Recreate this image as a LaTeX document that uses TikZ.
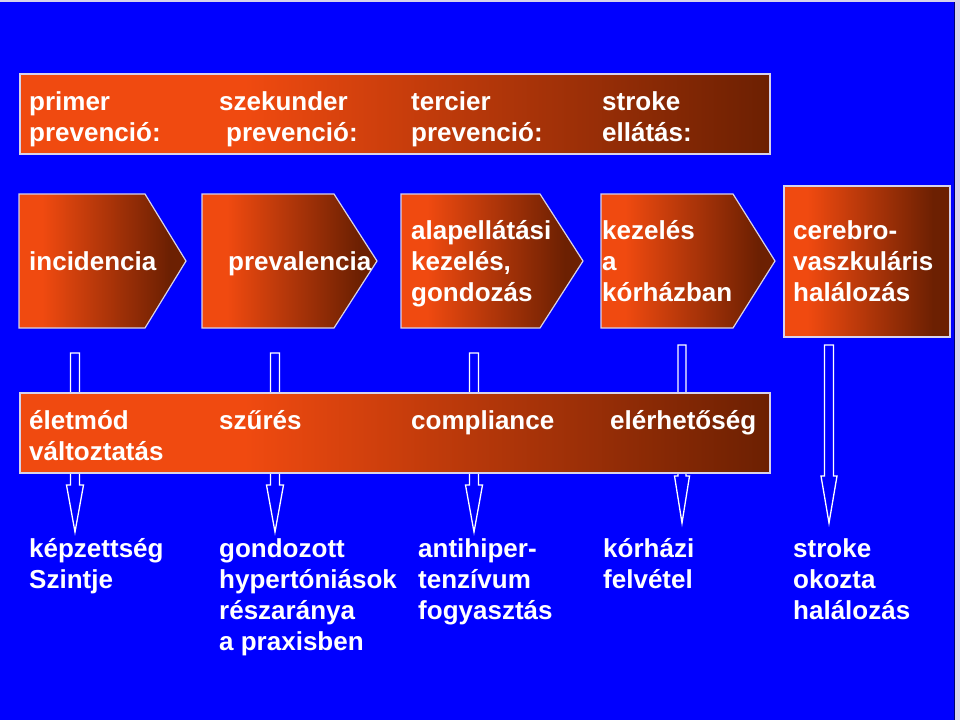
\documentclass[tikz,border=0pt]{standalone}
\usepackage{fontspec}
\setmainfont{Liberation Sans}
\definecolor{bgblue}{RGB}{0,0,255}
\definecolor{orng}{RGB}{240,74,16}
\definecolor{dbrn}{RGB}{108,32,2}
\definecolor{edge}{RGB}{215,210,235}
\definecolor{rimnavy}{RGB}{0,0,110}
\pgfdeclarehorizontalshading{barshade}{100bp}{color(0bp)=(orng); color(25bp)=(orng); color(40bp)=(orng); color(75bp)=(dbrn); color(100bp)=(dbrn)}
\pgfdeclarehorizontalshading{pentshade}{100bp}{color(0bp)=(orng); color(25bp)=(orng); color(32bp)=(orng); color(70bp)=(dbrn); color(100bp)=(dbrn)}
\begin{document}
\begin{tikzpicture}[x=1pt,y=-1pt,
  lbl/.style={font=\bfseries\fontsize{26}{31}\selectfont, text=white, anchor=base west, align=left, inner sep=0pt},
  band/.style={shading=barshade, draw=edge, line width=1.5pt},
  pent/.style={shading=pentshade, draw=edge, line width=1.2pt},
  hollow/.style={fill=bgblue, draw=white, line width=1.3pt, line join=miter}]
\useasboundingbox (0,0) rectangle (960,720);
\fill[edge] (0,0) rectangle (960,720);
\fill[bgblue] (0,2) rectangle (955,720);
\draw[rimnavy, line width=1pt] (954.5,2) -- (954.5,720);

% hollow block arrows (drawn first, bars lie over them)
\foreach \c/\hw/\hh/\tp/\hs/\tip in {75/4.5/8.5/353/485/532, 275/4.5/8.5/353/485/532, 474/4.5/8.5/353/485/532, 682/4/7.5/345/476/523, 829/4.5/8/345/476/523}
  \draw[hollow] (\c-\hw,\tp) -- (\c+\hw,\tp) -- (\c+\hw,\hs) -- (\c+\hh,\hs) -- (\c,\tip) -- (\c-\hh,\hs) -- (\c-\hw,\hs) -- cycle;

% top bar (node base = baseline of last line)
\path[band] (20,74) rectangle (770,154);
\node[lbl] (p1) at (29,141) {primer\\prevenció:};
\node[lbl] (p2) at (219,141) {szekunder\\\kern7pt prevenció:};
\node[lbl] (p3) at (411,141) {tercier\\prevenció:};
\node[lbl] (p4) at (602,141) {stroke\\ellátás:};

% process chevrons
\path[pent] (19,194) -- (145,194) -- (186,261) -- (145,328) -- (19,328) -- cycle;
\path[pent] (202,194) -- (334,194) -- (377,261) -- (334,328) -- (202,328) -- cycle;
\path[pent] (401,194) -- (540,194) -- (583,261) -- (540,328) -- (401,328) -- cycle;
\path[pent] (601,194) -- (733,194) -- (775,261) -- (733,328) -- (601,328) -- cycle;
\path[pent] (784,186) rectangle (950,337);
\node[lbl] (c1) at (29,270) {incidencia};
\node[lbl] (c2) at (228,270) {prevalencia};
\node[lbl] (c3) at (411,301) {alapellátási\\kezelés,\\gondozás};
\node[lbl] (c4) at (602,301) {kezelés\\a\\kórházban};
\node[lbl] (c5) at (793,301) {cerebro-\\vaszkuláris\\halálozás};

% middle bar
\path[band] (20,393) rectangle (770,473);
\node[lbl] (m1) at (29,460) {életmód\\változtatás};
\node[lbl] (m2) at (219,429) {szűrés};
\node[lbl] (m3) at (411,429) {compliance};
\node[lbl] (m4) at (610,429) {elérhetőség};

% bottom indicators
\node[lbl] (b1) at (29,588) {képzettség\\Szintje};
\node[lbl] (b2) at (219,650) {gondozott\\hypertóniások\\részaránya\\a praxisben};
\node[lbl] (b3) at (418,619) {antihiper-\\tenzívum\\fogyasztás};
\node[lbl] (b4) at (603,588) {kórházi\\felvétel};
\node[lbl] (b5) at (793,619) {stroke\\okozta\\halálozás};
\end{tikzpicture}
\end{document}
